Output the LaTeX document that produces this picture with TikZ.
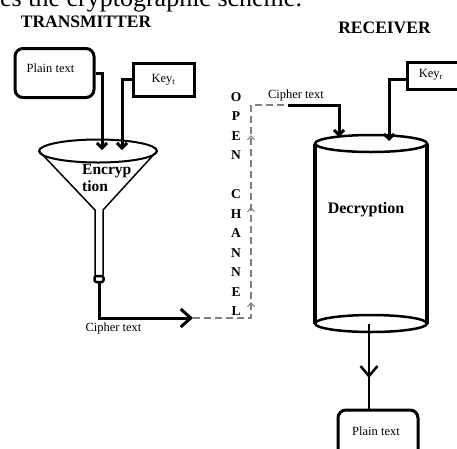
\documentclass[tikz,border=0pt]{standalone}
\usepackage{fontspec}
\setmainfont{Liberation Serif}
\usetikzlibrary{arrows.meta,decorations.markings}
\begin{document}
\begin{tikzpicture}[x=1pt,y=-1pt,
  heavy/.style={line width=3pt},
  rbox/.style={draw, line width=3pt, rounded corners=8pt, inner sep=0pt},
  sbox/.style={draw, line width=3pt, inner sep=0pt},
  lbl/.style={font=\fontsize{12.5}{14}\selectfont, inner sep=0pt},
  title/.style={font=\bfseries\fontsize{17.5}{20}\selectfont, inner sep=0pt},
  chanletter/.style={font=\bfseries\fontsize{13.5}{15}\selectfont, inner sep=0pt},
  smallbarb/.style={-{Straight Barb[length=5pt,width=10pt]}},
  bigbarb/.style={-{Straight Barb[length=10pt,width=18pt]}},
  chan/.style={draw=gray, line width=1.2pt, dash pattern=on 7pt off 4pt}
]
\useasboundingbox (0,0) rectangle (457,448);
\fill[white] (0,0) rectangle (457,448);

% cut caption line
\node[font=\fontsize{26}{30}\selectfont, anchor=base west, inner sep=0pt] (cap) at (0,6.5) {es the cryptographic scheme.};

% titles
\node[title] (tx) at (86,21.5) {TRANSMITTER};
\node[title] (rx) at (384.5,27.5) {RECEIVER};

% transmitter inputs
\node[rbox, minimum width=79pt, minimum height=49pt] (pt1) at (54.5,73) {};
\node[lbl] (pt1t) at (50.5,68) {Plain text};
\node[sbox, minimum width=61pt, minimum height=33pt, font=\fontsize{12.5}{14}\selectfont] (kt) at (163.5,79.5) {Key\textsubscript{t}};

% funnel
\coordinate (fun) at (98,151);
\draw[line width=2pt] (fun) ellipse [x radius=59pt, y radius=11.5pt];
\draw[line width=1.5pt] (39,151) -- (95,210) -- (95,275);
\draw[line width=1.5pt] (157,151) -- (103,210) -- (103,275);
\node[draw, line width=2.5pt, rounded corners=2pt, minimum width=9pt, minimum height=6pt, inner sep=0pt] (band) at (99,279) {};
\node[font=\bfseries\fontsize{15.5}{17}\selectfont, align=left, anchor=west, inner sep=0pt] (enc) at (82,178) {Encryp\\tion};

\coordinate (in1) at (102,150);
\coordinate (in2) at (122,150);
\draw[heavy, smallbarb] (pt1.east) -| (in1);
\draw[heavy, smallbarb] (kt.west) -| (in2);

% cipher text out
\coordinate (out) at (193,318);
\draw[heavy, bigbarb] (band.south) |- (out);
\node[lbl] (ct1) at (113.5,328) {Cipher text};

% open channel
\coordinate (chb) at (251,318);
\coordinate (cht) at (251,105);
\coordinate (rin) at (288,105);
\draw[chan, postaction={decorate}, decoration={markings,
   mark=at position 74pt with {\arrow[gray, line width=1pt]{Straight Barb[length=4pt,width=7pt]}},
   mark=at position 169pt with {\arrow[gray, line width=1pt]{Straight Barb[length=4pt,width=7pt]}},
   mark=at position 241pt with {\arrow[gray, line width=1pt]{Straight Barb[length=4pt,width=7pt]}}}]
   (out) -- (chb) -- (cht) -- (rin);
\foreach \l/\yy [count=\i] in {O/97,P/116.5,E/136,N/155.5,C/194.5,H/214,A/233.5,N/253,N/272.5,E/292,L/311.5}
  \node[chanletter] (ch\i) at (236,\yy) {\l};

% receiver
\node[lbl] (ct2) at (296,95) {Cipher text};
\coordinate (cin) at (339,137);
\draw[heavy, smallbarb] (rin) -| (cin);

\node[sbox, minimum width=64pt, minimum height=27pt] (kr) at (439,75.5) {};
\node[lbl] (krt) at (431,75) {Key\textsubscript{r}};
\coordinate (kin) at (389,141);
\draw[heavy, smallbarb] ([yshift=-3.5pt]kr.west) -| (kin);

% cylinder
\draw[line width=2.5pt] (371,143.5) ellipse [x radius=56pt, y radius=8.5pt];
\draw[line width=3.5pt] (315,143.5) -- (315,323.5);
\draw[line width=3.5pt] (427,143.5) -- (427,323.5);
\draw[line width=2.5pt] (371,323.5) ellipse [x radius=56pt, y radius=8.5pt];
\node[font=\bfseries\fontsize{16}{18}\selectfont, inner sep=0pt] (dec) at (366,210) {Decryption};
\coordinate (cbot) at (369,323.5);

% output
\node[rbox, minimum width=80pt, minimum height=50pt] (pt2) at (378,435) {};
\node[lbl] (pt2t) at (376,431) {Plain text};
\draw[line width=2.5pt, postaction={decorate}, decoration={markings,
   mark=at position 54.5pt with {\arrow{Straight Barb[length=10pt,width=17pt]}}}]
   (cbot) -- (cbot |- pt2.north);
\end{tikzpicture}
\end{document}
